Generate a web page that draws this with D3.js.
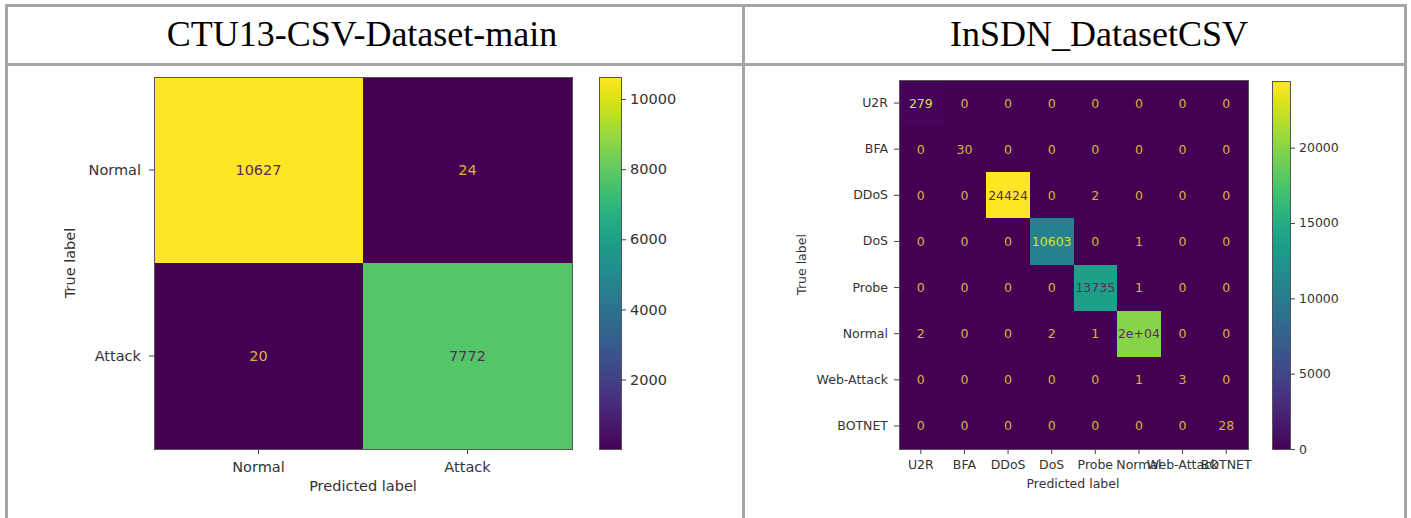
<!DOCTYPE html>
<html>
<head>
<meta charset="utf-8">
<script src="https://cdn.jsdelivr.net/npm/d3@7"></script>
<style>
  html, body { margin: 0; padding: 0; background: #fff; }
  svg { display: block; }
  .tick text { fill: #333; }
  .domain { display: none; }
</style>
</head>
<body>
<svg id="chart" width="1411" height="518"></svg>
<script>
// ---- data ----
const ctuTitle = "CTU13-CSV-Dataset-main";
const ctuLabels = ["Normal", "Attack"];
const ctuMatrix = [
  [10627, 24],
  [20, 7772]
];
const ctuBarTicks = [2000, 4000, 6000, 8000, 10000];

const sdnTitle = "InSDN_DatasetCSV";
const sdnLabels = ["U2R", "BFA", "DDoS", "DoS", "Probe", "Normal", "Web-Attack", "BOTNET"];
const sdnMatrix = [
  [279, 0, 0, 0, 0, 0, 0, 0],
  [0, 30, 0, 0, 0, 0, 0, 0],
  [0, 0, 24424, 0, 2, 0, 0, 0],
  [0, 0, 0, 10603, 0, 1, 0, 0],
  [0, 0, 0, 0, 13735, 1, 0, 0],
  [2, 0, 0, 2, 1, 20000, 0, 0],
  [0, 0, 0, 0, 0, 1, 3, 0],
  [0, 0, 0, 0, 0, 0, 0, 28]
];
const sdnBarTicks = [0, 5000, 10000, 15000, 20000];

const svg = d3.select("#chart");

// ---- table frame ----
const frame = svg.append("g").attr("fill", "#a6a6a6");
frame.append("rect").attr("x", 5).attr("y", 4).attr("width", 1402).attr("height", 3);
frame.append("rect").attr("x", 5).attr("y", 63).attr("width", 1402).attr("height", 3);
frame.append("rect").attr("x", 5).attr("y", 4).attr("width", 3).attr("height", 514);
frame.append("rect").attr("x", 742).attr("y", 4).attr("width", 3).attr("height", 514);
frame.append("rect").attr("x", 1404).attr("y", 4).attr("width", 3).attr("height", 514);

svg.append("text").attr("x", 362).attr("y", 46).attr("text-anchor", "middle")
  .attr("font-family", "Liberation Serif, Times New Roman, serif").attr("font-size", 36)
  .attr("fill", "#000").text(ctuTitle);
svg.append("text").attr("x", 1099).attr("y", 46).attr("text-anchor", "middle")
  .attr("font-family", "Liberation Serif, Times New Roman, serif").attr("font-size", 36)
  .attr("fill", "#000").text(sdnTitle);

// number text formatted the way sklearn's display does (".2g" unless plain integer is shorter)
function fmtCount(v) {
  let g;
  if (v === 0) g = "0";
  else {
    const e = Math.floor(Math.log10(Math.abs(v)));
    if (e < -4 || e >= 2) {
      let m = (v / Math.pow(10, e)).toPrecision(2).replace(/\.?0+$/, "");
      if (Math.round(parseFloat(m)) === 10) { m = "1"; }
      g = m + "e" + (e < 0 ? "-" : "+") + String(Math.abs(e)).padStart(2, "0");
    } else {
      g = String(parseFloat(v.toPrecision(2)));
    }
  }
  const d = String(v);
  return d.length < g.length ? d : g;
}

function drawMatrix(opt) {
  const { labels, matrix, x0, y0, w, h, font, barX, barY, barW, barH, barTicks,
          tickPad, titleX, xlabY, ylabX, valFont } = opt;
  const flat = matrix.flat();
  const vmin = d3.min(flat), vmax = d3.max(flat);
  const color = d3.scaleSequential(d3.interpolateViridis).domain([vmin, vmax]);
  const thresh = (vmin + vmax) / 2;

  const xs = d3.scaleBand().domain(labels).range([x0, x0 + w]).padding(0);
  const ys = d3.scaleBand().domain(labels).range([y0, y0 + h]).padding(0);

  const g = svg.append("g");
  const cells = [];
  matrix.forEach((row, i) => row.forEach((v, j) => cells.push({ r: labels[i], c: labels[j], v })));

  g.selectAll("rect.cell").data(cells).join("rect")
    .attr("class", "cell")
    .attr("x", d => xs(d.c)).attr("y", d => ys(d.r))
    .attr("width", xs.bandwidth() + 1).attr("height", ys.bandwidth() + 1)
    .attr("shape-rendering", "crispEdges")
    .attr("fill", d => color(d.v));

  g.selectAll("text.val").data(cells).join("text")
    .attr("class", "val")
    .attr("x", d => xs(d.c) + xs.bandwidth() / 2)
    .attr("y", d => ys(d.r) + ys.bandwidth() / 2)
    .attr("dy", "0.36em")
    .attr("text-anchor", "middle")
    .attr("font-family", "DejaVu Sans, sans-serif")
    .attr("font-size", valFont)
    .attr("fill", d => d.v < thresh ? (color(d.v) === color(vmin) ? "#dcb43c" : "#d8e040") : "#5b2a5e")
    .text(d => fmtCount(d.v));

  g.append("rect").attr("x", x0 + 0.5).attr("y", y0 + 0.5).attr("width", w).attr("height", h)
    .attr("fill", "none").attr("stroke", "#555").attr("stroke-width", 1);

  const ax = g.append("g").attr("transform", `translate(0,${y0 + h})`)
    .call(d3.axisBottom(xs).tickSize(5).tickPadding(tickPad));
  const ay = g.append("g").attr("transform", `translate(${x0},0)`)
    .call(d3.axisLeft(ys).tickSize(5).tickPadding(tickPad));
  [ax, ay].forEach(a => {
    a.selectAll("text").attr("font-family", "DejaVu Sans, sans-serif").attr("font-size", font);
    a.selectAll("line").attr("stroke", "#444");
  });

  g.append("text").attr("x", titleX).attr("y", xlabY).attr("text-anchor", "middle")
    .attr("font-family", "DejaVu Sans, sans-serif").attr("font-size", font).attr("fill", "#333")
    .text("Predicted label");
  g.append("text").attr("transform", `translate(${ylabX},${y0 + h / 2}) rotate(-90)`)
    .attr("text-anchor", "middle")
    .attr("font-family", "DejaVu Sans, sans-serif").attr("font-size", font).attr("fill", "#333")
    .text("True label");

  // colorbar
  const gid = "grad" + Math.round(x0);
  const grad = svg.append("defs").append("linearGradient").attr("id", gid)
    .attr("x1", 0).attr("y1", 1).attr("x2", 0).attr("y2", 0);
  d3.range(0, 1.0001, 0.05).forEach(t => {
    grad.append("stop").attr("offset", t).attr("stop-color", d3.interpolateViridis(t));
  });
  g.append("rect").attr("x", barX + 0.5).attr("y", barY + 0.5).attr("width", barW).attr("height", barH)
    .attr("fill", `url(#${gid})`).attr("stroke", "#555").attr("stroke-width", 1);
  const bs = d3.scaleLinear().domain([vmin, vmax]).range([barY + barH, barY]);
  const ab = g.append("g").attr("transform", `translate(${barX + barW},0)`)
    .call(d3.axisRight(bs).tickValues(barTicks).tickFormat(d3.format("d")).tickSize(5).tickPadding(4));
  ab.selectAll("text").attr("font-family", "DejaVu Sans, sans-serif").attr("font-size", font);
  ab.selectAll("line").attr("stroke", "#444");
}

drawMatrix({
  labels: ctuLabels, matrix: ctuMatrix,
  x0: 154, y0: 77, w: 418, h: 372, font: 14.5, valFont: 14.5, tickPad: 8,
  barX: 599, barY: 77, barW: 22, barH: 372, barTicks: ctuBarTicks,
  titleX: 363, xlabY: 491, ylabX: 75
});

drawMatrix({
  labels: sdnLabels, matrix: sdnMatrix,
  x0: 899, y0: 80, w: 349, h: 369, font: 12.5, valFont: 12.5, tickPad: 6,
  barX: 1272, barY: 81, barW: 18, barH: 368, barTicks: sdnBarTicks,
  titleX: 1073, xlabY: 488, ylabX: 806
});
</script>
</body>
</html>
